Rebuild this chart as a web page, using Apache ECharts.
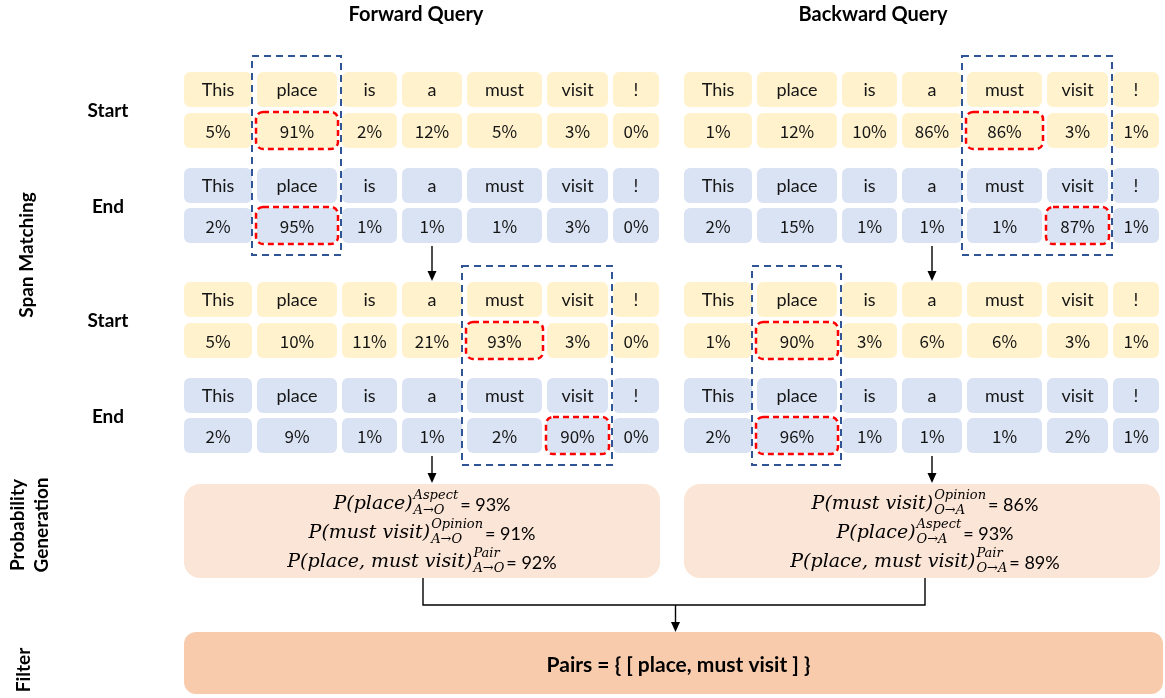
<!DOCTYPE html>
<html><head><meta charset="utf-8">
<script src="https://cdn.jsdelivr.net/npm/echarts@6/dist/echarts.min.js"></script>
<style>html,body{margin:0;padding:0;background:#fff}#c{width:1165px;height:698px}</style>
</head><body><div id="c"></div>
<script>
// ---------------- data ----------------
const tokens = ['This', 'place', 'is', 'a', 'must', 'visit', '!'];
const queryTitles = ['Forward Query', 'Backward Query'];
const stepNames = ['Start', 'End'];
const fwdStart1 = [5, 91, 2, 12, 5, 3, 0];
const fwdEnd1   = [2, 95, 1, 1, 1, 3, 0];
const fwdStart2 = [5, 10, 11, 21, 93, 3, 0];
const fwdEnd2   = [2, 9, 1, 1, 2, 90, 0];
const bwdStart1 = [1, 12, 10, 86, 86, 3, 1];
const bwdEnd1   = [2, 15, 1, 1, 1, 87, 1];
const bwdStart2 = [1, 90, 3, 6, 6, 3, 1];
const bwdEnd2   = [2, 96, 1, 1, 1, 2, 1];
const fwdSpan1 = ['place'];
const fwdSpan2 = ['must', 'visit'];
const bwdSpan1 = ['must', 'visit'];
const bwdSpan2 = ['place'];
const fwdFormulas = [['P(place)', 'Aspect', 'A→O', 93], ['P(must visit)', 'Opinion', 'A→O', 91], ['P(place, must visit)', 'Pair', 'A→O', 92]];
const bwdFormulas = [['P(must visit)', 'Opinion', 'O→A', 86], ['P(place)', 'Aspect', 'O→A', 93], ['P(place, must visit)', 'Pair', 'O→A', 89]];
const filterText = 'Pairs = { [ place, must visit ] }';
const sideLabels = ['Span Matching', 'Probability\nGeneration', 'Filter'];

// ---------------- layout (styling) ----------------
const L = {
  panelX: [184, 684], panelW: 476,
  colW: [68, 80, 55, 60, 75, 61, 46], gap: 5,
  blockY: [72, 282], rowOff: [0, 41, 96, 136], cellH: 35,
  probY: [484, 578], busY: 605, filterY: [632, 694], filterX: [184, 1163]
};
const colLeft = (p, i) => { let x = L.panelX[p]; for (let k = 0; k < i; k++) x += L.colW[k] + L.gap; return x; };
const colRight = (p, i) => colLeft(p, i) + L.colW[i];
const colMid = (p, i) => (colLeft(p, i) + colRight(p, i)) / 2;

const panels = [
  { rows: [[fwdStart1, fwdEnd1], [fwdStart2, fwdEnd2]], spans: [fwdSpan1, fwdSpan2], formulas: fwdFormulas },
  { rows: [[bwdStart1, bwdEnd1], [bwdStart2, bwdEnd2]], spans: [bwdSpan1, bwdSpan2], formulas: bwdFormulas }
];

const FILL = ['#FFF2CC', '#DAE3F3'];
const WORD_FONT = '18px Lato';
const PCT_FONT = '17px "Noto Sans CJK SC"';
const LABEL_FONT = 'bold 19px Lato';

// ---------------- build tables ----------------
const cells = [], reds = [], blues = [], arrows = [], boxes = [], labels = [], formulas = [];
panels.forEach((pn, p) => {
  pn.rows.forEach((pair, b) => {
    pair.forEach((probs, s) => {
      const yW = L.blockY[b] + L.rowOff[s * 2];
      const yP = L.blockY[b] + L.rowOff[s * 2 + 1];
      tokens.forEach((t, i) => {
        cells.push({ value: [colLeft(p, i), yW, colRight(p, i), yW + L.cellH], text: t, font: WORD_FONT, fill: FILL[s] });
        cells.push({ value: [colLeft(p, i), yP, colRight(p, i), yP + L.cellH], text: probs[i] + '%', font: PCT_FONT, fill: FILL[s] });
      });
      const span = pn.spans[b];
      const hi = tokens.indexOf(s === 0 ? span[0] : span[span.length - 1]);
      reds.push({ value: [colLeft(p, hi) - 1, yP - 1, colRight(p, hi) + 1, yP + L.cellH + 1] });
    });
    const span = pn.spans[b];
    const i0 = tokens.indexOf(span[0]), i1 = tokens.indexOf(span[span.length - 1]);
    blues.push({ value: [colLeft(p, i0) - 5, L.blockY[b] - 16, colRight(p, i1) + 4, L.blockY[b] + L.rowOff[3] + L.cellH + 12] });
  });
  const ax = colMid(p, 3);
  const bot1 = L.blockY[0] + L.rowOff[3] + L.cellH;
  const bot2 = L.blockY[1] + L.rowOff[3] + L.cellH;
  arrows.push({ pts: [[ax, bot1 + 3], [ax, L.blockY[1] - 1]], head: true });
  arrows.push({ pts: [[ax, bot2 + 3], [ax, L.probY[0] - 1]], head: true });
  boxes.push({ value: [L.panelX[p], L.probY[0], L.panelX[p] + L.panelW, L.probY[1]], fill: '#FBE5D6', r: 16 });
  pn.formulas.forEach((f, k) => {
    formulas.push({ value: [L.panelX[p] + L.panelW / 2 + p * 3, [504, 533, 562][k]], f: f });
  });
  labels.push({ value: [[416, 873][p], 15], text: queryTitles[p], font: 'bold 20px Lato', rot: 0 });
});
const cL = L.panelX[0] + L.panelW / 2 + 1, cR = L.panelX[1] + L.panelW / 2 + 3;
arrows.push({ pts: [[cL, L.probY[1]], [cL, L.busY], [cR, L.busY], [cR, L.probY[1]]], head: false });
const fMid = (L.filterX[0] + L.filterX[1]) / 2 + 2;
arrows.push({ pts: [[fMid, L.busY], [fMid, L.filterY[0]]], head: true });
boxes.push({ value: [L.filterX[0], L.filterY[0], L.filterX[1], L.filterY[1]], fill: '#F8CBAD', r: 12, text: filterText });
L.blockY.forEach(by => {
  stepNames.forEach((nm, s) => {
    labels.push({ value: [108, by + L.rowOff[s * 2] + (L.rowOff[1] + L.cellH) / 2 + 1], text: nm, font: LABEL_FONT, rot: 0 });
  });
});
labels.push({ value: [27, 255], text: sideLabels[0], font: LABEL_FONT, rot: Math.PI / 2 });
labels.push({ value: [30, 525], text: sideLabels[1], font: LABEL_FONT, rot: Math.PI / 2 });
labels.push({ value: [24, 670], text: sideLabels[2], font: LABEL_FONT, rot: Math.PI / 2 });

// ---------------- rendering ----------------
const mctx = document.createElement('canvas').getContext('2d');
const tw = (t, font) => { mctx.font = font; return mctx.measureText(t).width; };

function rectOf(api) {
  const a = api.coord([api.value(0), api.value(1)]);
  const b = api.coord([api.value(2), api.value(3)]);
  return { x: a[0], y: a[1], width: b[0] - a[0], height: b[1] - a[1] };
}
function renderCell(params, api) {
  const c = cells[params.dataIndex];
  const r = rectOf(api);
  return { type: 'group', children: [
    { type: 'rect', shape: Object.assign({ r: 6 }, r), style: { fill: c.fill } },
    { type: 'text', style: { text: c.text, x: r.x + r.width / 2, y: r.y + r.height / 2 + 1, align: 'center', verticalAlign: 'middle', font: c.font, fill: '#151515' } }
  ] };
}
function renderDash(color, width, dash, radius) {
  return function (params, api) {
    const r = rectOf(api);
    return { type: 'rect', shape: Object.assign({ r: radius }, r), style: { fill: 'none', stroke: color, lineWidth: width, lineDash: dash } };
  };
}
function renderArrow(params, api) {
  const a = arrows[params.dataIndex];
  const pts = a.pts.map(q => api.coord(q));
  const ch = [{ type: 'polyline', shape: { points: pts }, style: { stroke: '#000', lineWidth: 1.4, fill: 'none' } }];
  if (a.head) {
    const e = pts[pts.length - 1];
    ch[0].shape.points = pts.slice(0, -1).concat([[e[0], e[1] - 8]]);
    ch.push({ type: 'polygon', shape: { points: [[e[0] - 4.5, e[1] - 10], [e[0] + 4.5, e[1] - 10], [e[0], e[1]]] }, style: { fill: '#000' } });
  }
  return { type: 'group', children: ch };
}
function renderBox(params, api) {
  const bx = boxes[params.dataIndex];
  const r = rectOf(api);
  const ch = [{ type: 'rect', shape: Object.assign({ r: bx.r }, r), style: { fill: bx.fill } }];
  if (bx.text) ch.push({ type: 'text', style: { text: bx.text, x: r.x + r.width / 2 + 5, y: r.y + r.height / 2 + 2, align: 'center', verticalAlign: 'middle', font: 'bold 21px Lato', fill: '#000' } });
  return { type: 'group', children: ch };
}
function renderLabel(params, api) {
  const lb = labels[params.dataIndex];
  const p = api.coord([api.value(0), api.value(1)]);
  return { type: 'text', x: p[0], y: p[1], rotation: lb.rot, style: { text: lb.text, x: 0, y: 0, align: 'center', verticalAlign: 'middle', font: lb.font, fill: '#000', lineHeight: 24 } };
}
const MAIN_F = 'italic 19px "DejaVu Serif"', SS_F = 'italic 13px "DejaVu Serif"', EQ_F = '18px Lato';
function renderFormula(params, api) {
  const f = formulas[params.dataIndex].f;
  const p = api.coord([api.value(0), api.value(1)]);
  const wM = tw(f[0], MAIN_F), wS = Math.max(tw(f[1], SS_F), tw(f[2], SS_F)), eq = '= ' + f[3] + '%', wE = tw(eq, EQ_F);
  const total = wM + 1 + wS + 2 + wE;
  let x = p[0] - total / 2;
  const base = { verticalAlign: 'middle', align: 'left', fill: '#000' };
  const ch = [
    { type: 'text', style: Object.assign({ text: f[0], x: x, y: p[1], font: MAIN_F }, base) },
    { type: 'text', style: Object.assign({ text: f[1], x: x + wM + 1, y: p[1] - 8, font: SS_F }, base) },
    { type: 'text', style: Object.assign({ text: f[2], x: x + wM + 1, y: p[1] + 7, font: SS_F }, base) },
    { type: 'text', style: Object.assign({ text: eq, x: x + wM + 1 + wS + 2, y: p[1] + 1, font: EQ_F }, base) }
  ];
  return { type: 'group', children: ch };
}

const chart = echarts.init(document.getElementById('c'));
chart.setOption({
  animation: false,
  grid: { left: 0, right: 0, top: 0, bottom: 0 },
  xAxis: { type: 'value', min: 0, max: 1165, show: false },
  yAxis: { type: 'value', min: 0, max: 698, inverse: true, show: false },
  series: [
    { type: 'custom', name: 'prob boxes', renderItem: renderBox, data: boxes.map(b => b.value), clip: false, encode: { x: [0, 2], y: [1, 3] } },
    { type: 'custom', name: 'cells', renderItem: renderCell, data: cells.map(c => c.value), clip: false, encode: { x: [0, 2], y: [1, 3] } },
    { type: 'custom', name: 'spans', renderItem: renderDash('#2F5597', 2, [7, 5], 0), data: blues.map(c => c.value), clip: false, encode: { x: [0, 2], y: [1, 3] } },
    { type: 'custom', name: 'max', renderItem: renderDash('#FF0000', 2.5, [6, 4], 7), data: reds.map(c => c.value), clip: false, encode: { x: [0, 2], y: [1, 3] } },
    { type: 'custom', name: 'arrows', renderItem: renderArrow, data: arrows.map(a => a.pts[0]), clip: false },
    { type: 'custom', name: 'formulas', renderItem: renderFormula, data: formulas.map(f => f.value), clip: false },
    { type: 'custom', name: 'labels', renderItem: renderLabel, data: labels.map(l => l.value), clip: false }
  ]
});
</script></body></html>
